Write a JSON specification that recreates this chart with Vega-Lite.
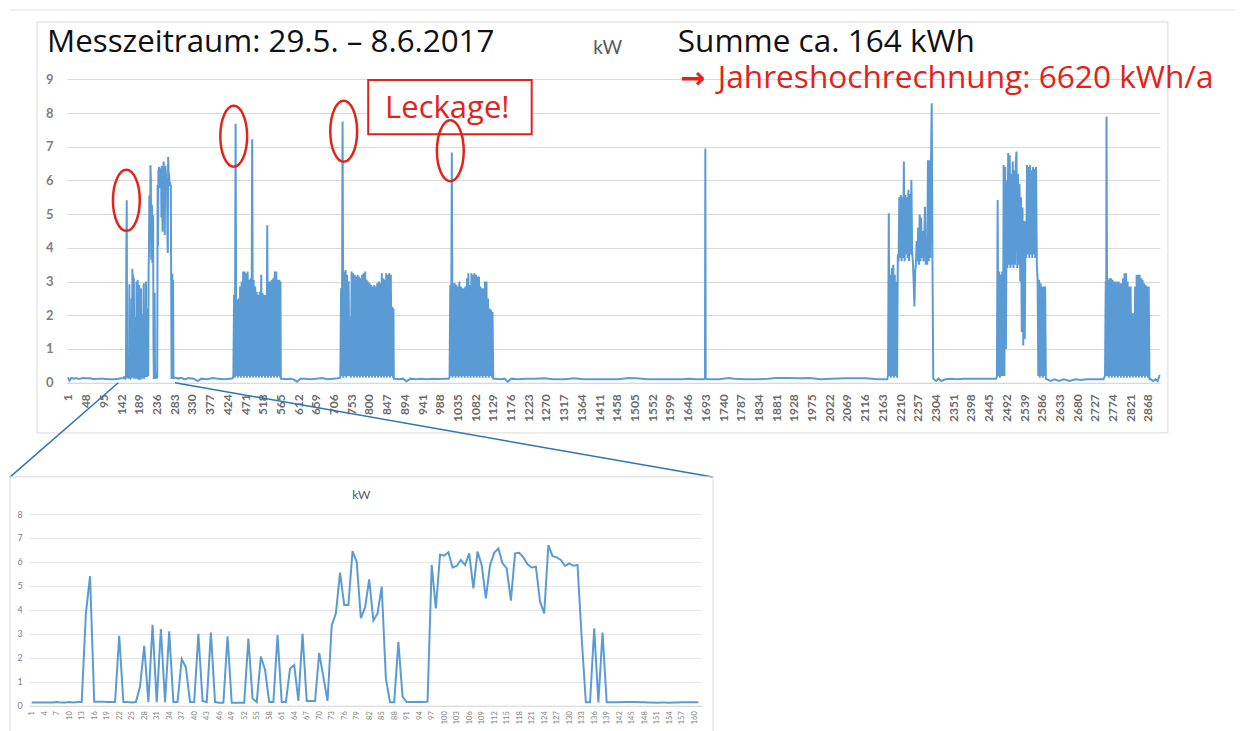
{
"$schema":"https://vega.github.io/schema/vega-lite/v6.json",
"width":1240,"height":731,"autosize":{"type":"none"},"padding":0,"background":"white",
"config":{"view":{"stroke":null},"axis":{"labelFont":"Lato","labelOverlap":false,"labelFlush":false,"labelBound":false}},
"datasets":{"kw":[
{"u":1,"kw":0.16},{"u":5,"kw":0.06},{"u":10,"kw":0.14},{"u":16,"kw":0.12},{"u":22,"kw":0.14},{"u":30,"kw":0.11},{"u":40,"kw":0.14},{"u":50,"kw":0.13},{"u":60,"kw":0.13},{"u":70,"kw":0.1},{"u":80,"kw":0.12},{"u":95,"kw":0.12},{"u":110,"kw":0.1},{"u":125,"kw":0.1},{"u":135,"kw":0.12},{"u":142,"kw":0.13},
{"u":143,"i":1,"kw":0.13},{"u":144,"i":2,"kw":0.13},{"u":145,"i":3,"kw":0.13},{"u":146,"i":4,"kw":0.13},{"u":147,"i":5,"kw":0.13},{"u":148,"i":6,"kw":0.13},{"u":149,"i":7,"kw":0.15},{"u":150,"i":8,"kw":0.13},{"u":151,"i":9,"kw":0.13},{"u":152,"i":10,"kw":0.15},
{"u":153,"i":11,"kw":0.13},{"u":154,"i":12,"kw":0.15},{"u":155,"i":13,"kw":0.15},{"u":156,"i":14,"kw":3.85},{"u":157,"i":15,"kw":5.41},{"u":158,"i":16,"kw":0.17},{"u":159,"i":17,"kw":0.17},{"u":160,"i":18,"kw":0.17},{"u":161,"i":19,"kw":0.15},{"u":162,"i":20,"kw":0.15},
{"u":163,"i":21,"kw":0.15},{"u":164,"i":22,"kw":2.92},{"u":165,"i":23,"kw":0.15},{"u":166,"i":24,"kw":0.15},{"u":167,"i":25,"kw":0.13},{"u":168,"i":26,"kw":0.15},{"u":169,"i":27,"kw":0.8},{"u":170,"i":28,"kw":2.5},{"u":171,"i":29,"kw":0.15},{"u":172,"i":30,"kw":3.38},
{"u":173,"i":31,"kw":0.15},{"u":174,"i":32,"kw":3.2},{"u":175,"i":33,"kw":0.15},{"u":176,"i":34,"kw":3.1},{"u":177,"i":35,"kw":0.15},{"u":178,"i":36,"kw":0.15},{"u":179,"i":37,"kw":1.95},{"u":180,"i":38,"kw":1.6},{"u":181,"i":39,"kw":0.15},{"u":182,"i":40,"kw":0.15},
{"u":183,"i":41,"kw":3.0},{"u":184,"i":42,"kw":0.2},{"u":185,"i":43,"kw":0.15},{"u":186,"i":44,"kw":3.05},{"u":187,"i":45,"kw":0.15},{"u":188,"i":46,"kw":0.12},{"u":189,"i":47,"kw":0.12},{"u":190,"i":48,"kw":2.9},{"u":191,"i":49,"kw":0.12},{"u":192,"i":50,"kw":0.12},
{"u":193,"i":51,"kw":0.12},{"u":194,"i":52,"kw":0.12},{"u":195,"i":53,"kw":2.8},{"u":196,"i":54,"kw":0.3},{"u":197,"i":55,"kw":0.15},{"u":198,"i":56,"kw":2.05},{"u":199,"i":57,"kw":1.5},{"u":200,"i":58,"kw":0.15},{"u":201,"i":59,"kw":0.15},{"u":202,"i":60,"kw":2.95},
{"u":203,"i":61,"kw":0.15},{"u":204,"i":62,"kw":0.15},{"u":205,"i":63,"kw":1.55},{"u":206,"i":64,"kw":1.7},{"u":207,"i":65,"kw":0.2},{"u":208,"i":66,"kw":3.0},{"u":209,"i":67,"kw":0.2},{"u":210,"i":68,"kw":0.2},{"u":211,"i":69,"kw":0.2},{"u":212,"i":70,"kw":2.2},
{"u":213,"i":71,"kw":1.2},{"u":214,"i":72,"kw":0.2},{"u":215,"i":73,"kw":3.35},{"u":216,"i":74,"kw":3.85},{"u":217,"i":75,"kw":5.55},{"u":218,"i":76,"kw":4.2},{"u":219,"i":77,"kw":4.2},{"u":220,"i":78,"kw":6.45},{"u":221,"i":79,"kw":6.0},{"u":222,"i":80,"kw":3.65},
{"u":223,"i":81,"kw":4.1},{"u":224,"i":82,"kw":5.27},{"u":225,"i":83,"kw":3.55},{"u":226,"i":84,"kw":3.85},{"u":227,"i":85,"kw":4.97},{"u":228,"i":86,"kw":1.14},{"u":229,"i":87,"kw":0.14},{"u":230,"i":88,"kw":0.14},{"u":231,"i":89,"kw":2.67},{"u":232,"i":90,"kw":0.38},
{"u":233,"i":91,"kw":0.15},{"u":234,"i":92,"kw":0.15},{"u":235,"i":93,"kw":0.15},{"u":236,"i":94,"kw":0.16},{"u":237,"i":95,"kw":0.15},{"u":238,"i":96,"kw":0.17},{"u":239,"i":97,"kw":5.87},{"u":240,"i":98,"kw":4.06},{"u":241,"i":99,"kw":6.31},{"u":242,"i":100,"kw":6.26},
{"u":243,"i":101,"kw":6.4},{"u":244,"i":102,"kw":5.77},{"u":245,"i":103,"kw":5.83},{"u":246,"i":104,"kw":6.08},{"u":247,"i":105,"kw":5.87},{"u":248,"i":106,"kw":6.36},{"u":249,"i":107,"kw":4.9},{"u":250,"i":108,"kw":6.43},{"u":251,"i":109,"kw":5.87},{"u":252,"i":110,"kw":4.48},
{"u":253,"i":111,"kw":5.87},{"u":254,"i":112,"kw":6.38},{"u":255,"i":113,"kw":6.56},{"u":256,"i":114,"kw":5.94},{"u":257,"i":115,"kw":5.73},{"u":258,"i":116,"kw":4.38},{"u":259,"i":117,"kw":6.36},{"u":260,"i":118,"kw":6.38},{"u":261,"i":119,"kw":6.19},{"u":262,"i":120,"kw":5.9},
{"u":263,"i":121,"kw":5.77},{"u":264,"i":122,"kw":5.8},{"u":265,"i":123,"kw":4.34},{"u":266,"i":124,"kw":3.85},{"u":267,"i":125,"kw":6.7},{"u":268,"i":126,"kw":6.24},{"u":269,"i":127,"kw":6.19},{"u":270,"i":128,"kw":6.08},{"u":271,"i":129,"kw":5.83},{"u":272,"i":130,"kw":5.94},
{"u":273,"i":131,"kw":5.84},{"u":274,"i":132,"kw":5.87},{"u":275,"i":133,"kw":2.8},{"u":276,"i":134,"kw":0.14},{"u":277,"i":135,"kw":0.14},{"u":278,"i":136,"kw":3.23},{"u":279,"i":137,"kw":0.14},{"u":280,"i":138,"kw":3.05},{"u":281,"i":139,"kw":0.14},{"u":282,"i":140,"kw":0.14},
{"u":283,"i":141,"kw":0.14},{"u":284,"i":142,"kw":0.14},{"u":285,"i":143,"kw":0.15},{"u":286,"i":144,"kw":0.15},{"u":287,"i":145,"kw":0.15},{"u":288,"i":146,"kw":0.15},{"u":289,"i":147,"kw":0.14},{"u":290,"i":148,"kw":0.14},{"u":291,"i":149,"kw":0.13},{"u":292,"i":150,"kw":0.13},
{"u":293,"i":151,"kw":0.12},{"u":294,"i":152,"kw":0.13},{"u":295,"i":153,"kw":0.13},{"u":296,"i":154,"kw":0.12},{"u":297,"i":155,"kw":0.13},{"u":298,"i":156,"kw":0.13},{"u":299,"i":157,"kw":0.14},{"u":300,"i":158,"kw":0.14},{"u":301,"i":159,"kw":0.14},{"u":302,"i":160,"kw":0.14},{"u":303,"i":161,"kw":0.14},
{"u":312,"kw":0.1},{"u":320,"kw":0.14},{"u":335,"kw":0.12},{"u":345,"kw":0.05},{"u":355,"kw":0.12},{"u":370,"kw":0.1},{"u":385,"kw":0.14},{"u":400,"kw":0.12},{"u":415,"kw":0.1},{"u":430,"kw":0.12},{"u":438,"kw":0.13},
{"u":440,"kw":0.2},{"u":442,"kw":2.6},{"u":444,"kw":0.15},{"u":446,"kw":7.68},{"u":448,"kw":0.2},{"u":450,"kw":2.45},{"u":452,"kw":0.15},{"u":454,"kw":2.5},{"u":456,"kw":0.2},{"u":458,"kw":2.85},{"u":460,"kw":0.15},{"u":462,"kw":3.0},{"u":464,"kw":0.2},{"u":466,"kw":3.3},{"u":468,"kw":0.15},{"u":470,"kw":3.3},{"u":472,"kw":0.2},{"u":474,"kw":3.25},{"u":476,"kw":0.15},{"u":478,"kw":3.3},{"u":480,"kw":0.2},{"u":482,"kw":3.05},{"u":484,"kw":0.15},{"u":486,"kw":3.1},{"u":488,"kw":0.2},{"u":490,"kw":7.22},{"u":492,"kw":0.15},{"u":494,"kw":3.05},{"u":496,"kw":0.2},{"u":498,"kw":2.85},{"u":500,"kw":0.15},{"u":502,"kw":2.7},{"u":504,"kw":0.2},{"u":506,"kw":2.6},{"u":508,"kw":0.15},{"u":510,"kw":2.7},{"u":512,"kw":0.2},{"u":514,"kw":3.2},{"u":516,"kw":0.15},{"u":518,"kw":2.65},{"u":520,"kw":0.2},{"u":522,"kw":2.6},{"u":524,"kw":0.15},{"u":526,"kw":2.6},{"u":528,"kw":0.2},{"u":530,"kw":4.67},{"u":532,"kw":0.15},{"u":534,"kw":3.0},{"u":536,"kw":0.2},{"u":538,"kw":3.0},{"u":540,"kw":0.15},{"u":542,"kw":3.05},{"u":544,"kw":0.2},{"u":546,"kw":3.1},{"u":548,"kw":0.15},{"u":550,"kw":3.3},{"u":552,"kw":0.2},{"u":554,"kw":3.3},{"u":556,"kw":0.15},{"u":558,"kw":3.05},{"u":560,"kw":0.2},{"u":562,"kw":3.05},{"u":564,"kw":0.15},{"u":565,"kw":3.0},{"u":566,"kw":0.12},
{"u":570,"kw":0.12},{"u":580,"kw":0.1},{"u":590,"kw":0.12},{"u":600,"kw":0.1},{"u":609,"kw":0.03},{"u":618,"kw":0.12},{"u":630,"kw":0.12},{"u":645,"kw":0.1},{"u":660,"kw":0.12},{"u":675,"kw":0.14},{"u":690,"kw":0.1},{"u":705,"kw":0.12},{"u":718,"kw":0.13},
{"u":724,"kw":0.15},{"u":726,"kw":2.8},{"u":728,"kw":0.2},{"u":730,"kw":7.75},{"u":732,"kw":0.15},{"u":734,"kw":3.3},{"u":736,"kw":0.2},{"u":738,"kw":3.34},{"u":740,"kw":0.15},{"u":742,"kw":3.2},{"u":744,"kw":0.2},{"u":746,"kw":3.0},{"u":748,"kw":0.2},{"u":750,"kw":1.96},{"u":752,"kw":0.15},{"u":754,"kw":3.3},{"u":756,"kw":0.2},{"u":758,"kw":3.25},{"u":760,"kw":0.15},{"u":762,"kw":3.2},{"u":764,"kw":0.2},{"u":766,"kw":3.15},{"u":768,"kw":0.15},{"u":770,"kw":3.2},{"u":772,"kw":0.2},{"u":774,"kw":3.15},{"u":776,"kw":0.15},{"u":778,"kw":3.1},{"u":780,"kw":0.2},{"u":782,"kw":3.2},{"u":784,"kw":0.15},{"u":786,"kw":3.25},{"u":788,"kw":0.2},{"u":790,"kw":3.3},{"u":792,"kw":0.15},{"u":794,"kw":3.05},{"u":796,"kw":0.2},{"u":798,"kw":3.0},{"u":800,"kw":0.15},{"u":802,"kw":2.95},{"u":804,"kw":0.2},{"u":806,"kw":2.9},{"u":808,"kw":0.15},{"u":810,"kw":2.85},{"u":812,"kw":0.2},{"u":814,"kw":2.9},{"u":816,"kw":0.15},{"u":818,"kw":2.85},{"u":820,"kw":0.2},{"u":822,"kw":2.95},{"u":824,"kw":0.15},{"u":826,"kw":3.0},{"u":828,"kw":0.2},{"u":830,"kw":2.95},{"u":832,"kw":0.15},{"u":834,"kw":3.25},{"u":836,"kw":0.2},{"u":838,"kw":3.1},{"u":840,"kw":0.15},{"u":842,"kw":3.05},{"u":844,"kw":0.2},{"u":846,"kw":3.25},{"u":848,"kw":0.15},{"u":850,"kw":3.2},{"u":852,"kw":0.2},{"u":854,"kw":3.25},{"u":856,"kw":0.15},{"u":858,"kw":3.2},{"u":860,"kw":0.2},{"u":862,"kw":2.25},{"u":864,"kw":0.15},{"u":865,"kw":2.2},{"u":866,"kw":0.12},
{"u":870,"kw":0.12},{"u":880,"kw":0.1},{"u":890,"kw":0.12},{"u":900,"kw":0.04},{"u":910,"kw":0.12},{"u":925,"kw":0.1},{"u":940,"kw":0.12},{"u":955,"kw":0.1},{"u":970,"kw":0.12},{"u":985,"kw":0.11},{"u":1000,"kw":0.12},{"u":1012,"kw":0.12},
{"u":1014,"kw":0.15},{"u":1016,"kw":2.9},{"u":1018,"kw":0.2},{"u":1020,"kw":6.83},{"u":1022,"kw":0.15},{"u":1024,"kw":2.95},{"u":1026,"kw":0.2},{"u":1028,"kw":2.95},{"u":1030,"kw":0.15},{"u":1032,"kw":2.9},{"u":1034,"kw":0.2},{"u":1036,"kw":2.85},{"u":1038,"kw":0.15},{"u":1040,"kw":3.0},{"u":1042,"kw":0.2},{"u":1044,"kw":2.85},{"u":1046,"kw":0.15},{"u":1048,"kw":2.8},{"u":1050,"kw":0.2},{"u":1052,"kw":2.8},{"u":1054,"kw":0.15},{"u":1056,"kw":2.85},{"u":1058,"kw":0.2},{"u":1060,"kw":3.1},{"u":1062,"kw":0.15},{"u":1064,"kw":3.25},{"u":1066,"kw":0.2},{"u":1068,"kw":2.9},{"u":1070,"kw":0.15},{"u":1072,"kw":3.25},{"u":1074,"kw":0.2},{"u":1076,"kw":3.2},{"u":1078,"kw":0.15},{"u":1080,"kw":3.25},{"u":1082,"kw":0.2},{"u":1084,"kw":3.2},{"u":1086,"kw":0.15},{"u":1088,"kw":3.15},{"u":1090,"kw":0.2},{"u":1092,"kw":3.15},{"u":1094,"kw":0.15},{"u":1096,"kw":2.85},{"u":1098,"kw":0.2},{"u":1100,"kw":2.8},{"u":1102,"kw":0.15},{"u":1104,"kw":2.8},{"u":1106,"kw":0.2},{"u":1108,"kw":3.0},{"u":1110,"kw":0.15},{"u":1112,"kw":3.0},{"u":1114,"kw":0.2},{"u":1116,"kw":2.5},{"u":1118,"kw":0.15},{"u":1120,"kw":2.2},{"u":1122,"kw":0.2},{"u":1124,"kw":2.16},{"u":1126,"kw":0.15},{"u":1128,"kw":2.1},{"u":1130,"kw":0.12},
{"u":1135,"kw":0.12},{"u":1150,"kw":0.1},{"u":1160,"kw":0.12},{"u":1168,"kw":0.03},{"u":1178,"kw":0.12},{"u":1195,"kw":0.1},{"u":1215,"kw":0.12},{"u":1240,"kw":0.12},{"u":1265,"kw":0.13},{"u":1290,"kw":0.1},{"u":1320,"kw":0.1},{"u":1345,"kw":0.13},{"u":1370,"kw":0.1},{"u":1400,"kw":0.1},{"u":1430,"kw":0.1},{"u":1460,"kw":0.1},{"u":1490,"kw":0.14},{"u":1510,"kw":0.13},{"u":1540,"kw":0.1},{"u":1570,"kw":0.1},{"u":1600,"kw":0.1},{"u":1630,"kw":0.1},{"u":1650,"kw":0.12},{"u":1670,"kw":0.1},{"u":1690,"kw":0.1},
{"u":1692,"kw":0.12},{"u":1693,"kw":6.95},{"u":1694,"kw":0.12},
{"u":1700,"kw":0.1},{"u":1730,"kw":0.1},{"u":1755,"kw":0.14},{"u":1770,"kw":0.12},{"u":1800,"kw":0.1},{"u":1830,"kw":0.1},{"u":1860,"kw":0.12},{"u":1880,"kw":0.14},{"u":1910,"kw":0.14},{"u":1940,"kw":0.13},{"u":1970,"kw":0.14},{"u":2000,"kw":0.1},{"u":2030,"kw":0.12},{"u":2060,"kw":0.13},{"u":2090,"kw":0.13},{"u":2120,"kw":0.13},{"u":2150,"kw":0.1},{"u":2174,"kw":0.1},
{"u":2176,"kw":0.1},{"u":2178,"kw":0.2},{"u":2180,"kw":5.03},{"u":2182,"kw":0.2},{"u":2184,"kw":3.2},{"u":2186,"kw":0.15},{"u":2188,"kw":3.4},{"u":2190,"kw":0.2},{"u":2192,"kw":3.5},{"u":2194,"kw":0.15},{"u":2196,"kw":3.2},{"u":2198,"kw":0.2},{"u":2200,"kw":3.0},{"u":2202,"kw":0.15},{"u":2204,"kw":3.8},{"u":2206,"kw":3.6},{"u":2208,"kw":5.5},{"u":2210,"kw":3.7},{"u":2212,"kw":5.57},{"u":2214,"kw":3.6},{"u":2216,"kw":5.5},{"u":2218,"kw":3.7},{"u":2220,"kw":6.56},{"u":2222,"kw":3.6},{"u":2224,"kw":5.57},{"u":2226,"kw":3.8},{"u":2228,"kw":5.5},{"u":2230,"kw":3.7},{"u":2232,"kw":5.72},{"u":2234,"kw":3.6},{"u":2236,"kw":5.6},{"u":2238,"kw":3.8},{"u":2240,"kw":6.01},{"u":2242,"kw":3.9},{"u":2244,"kw":3.59},{"u":2246,"kw":3.0},{"u":2248,"kw":2.26},{"u":2250,"kw":3.3},{"u":2252,"kw":3.5},{"u":2254,"kw":4.2},{"u":2256,"kw":3.6},{"u":2258,"kw":4.6},{"u":2260,"kw":3.5},{"u":2262,"kw":4.98},{"u":2264,"kw":3.6},{"u":2266,"kw":4.9},{"u":2268,"kw":3.7},{"u":2270,"kw":4.5},{"u":2272,"kw":3.6},{"u":2274,"kw":4.2},{"u":2276,"kw":5.22},{"u":2278,"kw":3.5},{"u":2280,"kw":4.0},{"u":2282,"kw":3.5},{"u":2284,"kw":6.6},{"u":2286,"kw":3.6},{"u":2288,"kw":6.6},{"u":2290,"kw":3.7},{"u":2292,"kw":6.5},{"u":2294,"kw":8.29},{"u":2296,"kw":3.6},{"u":2298,"kw":0.12},
{"u":2300,"kw":0.1},{"u":2306,"kw":0.05},{"u":2312,"kw":0.12},{"u":2320,"kw":0.05},{"u":2330,"kw":0.1},{"u":2345,"kw":0.12},{"u":2360,"kw":0.1},{"u":2380,"kw":0.12},{"u":2400,"kw":0.12},{"u":2420,"kw":0.12},{"u":2440,"kw":0.12},{"u":2455,"kw":0.12},{"u":2465,"kw":0.12},
{"u":2467,"kw":0.2},{"u":2469,"kw":5.42},{"u":2471,"kw":0.2},{"u":2473,"kw":3.3},{"u":2475,"kw":0.15},{"u":2477,"kw":3.2},{"u":2479,"kw":0.2},{"u":2481,"kw":3.3},{"u":2483,"kw":0.2},{"u":2485,"kw":6.46},{"u":2487,"kw":0.2},{"u":2489,"kw":6.4},{"u":2491,"kw":1.0},{"u":2493,"kw":6.0},{"u":2495,"kw":3.4},{"u":2497,"kw":6.81},{"u":2499,"kw":3.5},{"u":2501,"kw":6.75},{"u":2503,"kw":3.4},{"u":2505,"kw":6.2},{"u":2507,"kw":3.5},{"u":2509,"kw":6.56},{"u":2511,"kw":3.4},{"u":2513,"kw":6.3},{"u":2515,"kw":3.5},{"u":2517,"kw":6.5},{"u":2519,"kw":6.86},{"u":2521,"kw":3.4},{"u":2523,"kw":6.2},{"u":2525,"kw":3.5},{"u":2527,"kw":5.9},{"u":2529,"kw":3.0},{"u":2531,"kw":5.5},{"u":2533,"kw":1.5},{"u":2535,"kw":5.2},{"u":2537,"kw":1.1},{"u":2539,"kw":4.8},{"u":2541,"kw":1.3},{"u":2543,"kw":4.78},{"u":2545,"kw":3.7},{"u":2547,"kw":6.46},{"u":2549,"kw":3.8},{"u":2551,"kw":6.4},{"u":2553,"kw":3.7},{"u":2555,"kw":6.45},{"u":2557,"kw":3.8},{"u":2559,"kw":6.3},{"u":2561,"kw":3.7},{"u":2563,"kw":6.4},{"u":2565,"kw":3.8},{"u":2567,"kw":6.35},{"u":2569,"kw":3.7},{"u":2571,"kw":6.4},{"u":2573,"kw":3.5},{"u":2575,"kw":3.1},{"u":2577,"kw":0.2},{"u":2579,"kw":3.05},{"u":2581,"kw":0.15},{"u":2583,"kw":2.95},{"u":2585,"kw":0.2},{"u":2587,"kw":2.85},{"u":2589,"kw":0.15},{"u":2591,"kw":2.85},{"u":2593,"kw":0.2},{"u":2595,"kw":2.85},{"u":2597,"kw":0.12},
{"u":2600,"kw":0.1},{"u":2610,"kw":0.05},{"u":2620,"kw":0.1},{"u":2632,"kw":0.05},{"u":2645,"kw":0.1},{"u":2660,"kw":0.05},{"u":2675,"kw":0.1},{"u":2690,"kw":0.08},{"u":2705,"kw":0.1},{"u":2720,"kw":0.1},{"u":2735,"kw":0.1},{"u":2750,"kw":0.1},
{"u":2754,"kw":0.2},{"u":2756,"kw":3.0},{"u":2757,"kw":0.2},{"u":2758,"kw":7.9},{"u":2760,"kw":0.2},{"u":2762,"kw":3.05},{"u":2764,"kw":0.15},{"u":2766,"kw":3.1},{"u":2768,"kw":0.2},{"u":2770,"kw":3.1},{"u":2772,"kw":0.15},{"u":2774,"kw":3.05},{"u":2776,"kw":0.2},{"u":2778,"kw":3.0},{"u":2780,"kw":0.15},{"u":2782,"kw":3.0},{"u":2784,"kw":0.2},{"u":2786,"kw":3.0},{"u":2788,"kw":0.15},{"u":2790,"kw":3.0},{"u":2792,"kw":0.2},{"u":2794,"kw":2.95},{"u":2796,"kw":0.15},{"u":2798,"kw":2.95},{"u":2800,"kw":0.2},{"u":2802,"kw":3.1},{"u":2804,"kw":0.15},{"u":2806,"kw":3.25},{"u":2808,"kw":0.2},{"u":2810,"kw":3.25},{"u":2812,"kw":0.15},{"u":2814,"kw":3.0},{"u":2816,"kw":0.2},{"u":2818,"kw":2.85},{"u":2820,"kw":0.15},{"u":2822,"kw":2.85},{"u":2824,"kw":0.2},{"u":2826,"kw":2.06},{"u":2828,"kw":0.15},{"u":2830,"kw":2.06},{"u":2832,"kw":0.2},{"u":2834,"kw":2.85},{"u":2836,"kw":0.15},{"u":2838,"kw":3.2},{"u":2840,"kw":0.2},{"u":2842,"kw":3.2},{"u":2844,"kw":0.15},{"u":2846,"kw":3.2},{"u":2848,"kw":0.2},{"u":2850,"kw":3.1},{"u":2852,"kw":0.15},{"u":2854,"kw":3.05},{"u":2856,"kw":0.2},{"u":2858,"kw":2.95},{"u":2860,"kw":0.15},{"u":2862,"kw":2.9},{"u":2864,"kw":0.2},{"u":2866,"kw":2.85},{"u":2868,"kw":0.15},{"u":2870,"kw":2.85},{"u":2872,"kw":0.1},
{"u":2876,"kw":0.1},{"u":2882,"kw":0.05},{"u":2888,"kw":0.1},{"u":2894,"kw":0.05},{"u":2899,"kw":0.23}
]},
"layer":[
{"layer":[
 {"data":{"values":[{}]},"mark":{"type":"rule","color":"#e3e3e3","strokeWidth":1},"encoding":{"x":{"datum":-153},"x2":{"datum":3099},"y":{"datum":11.06}}},
 {"data":{"values":[{}]},"mark":{"type":"rect","fill":null,"stroke":"#d9d9d9","strokeWidth":1},"encoding":{"x":{"datum":-81.3},"x2":{"datum":2921},"y":{"datum":-1.49},"y2":{"datum":10.7}}},
 {"data":{"name":"kw"},"mark":{"type":"line","color":"#5b9bd5","strokeWidth":2},
  "encoding":{
   "x":{"field":"u","type":"quantitative","scale":{"domain":[-1.6,2900],"range":[67,1160],"nice":false,"zero":false},
     "axis":{"orient":"bottom","offset":-348.3,"title":null,"grid":false,"ticks":false,"domainColor":"#d9d9d9","labelAngle":270,"labelPadding":11,"labelFontSize":12,"labelFontWeight":"bold","labelColor":"#6b6b6b","format":"d","labelOverlap":false,"labelFlush":false,"labelBound":false,"tickCount":500,
       "values":[1,48,95,142,189,236,283,330,377,424,471,518,565,612,659,706,753,800,847,894,941,988,1035,1082,1129,1176,1223,1270,1317,1364,1411,1458,1505,1552,1599,1646,1693,1740,1787,1834,1881,1928,1975,2022,2069,2116,2163,2210,2257,2304,2351,2398,2445,2492,2539,2586,2633,2680,2727,2774,2821,2868]}},
   "y":{"field":"kw","type":"quantitative","scale":{"domain":[0,9],"range":[382.7,79.3],"nice":false},
     "axis":{"orient":"left","offset":-67,"title":null,"domain":false,"ticks":false,"grid":true,"gridColor":"#d9d9d9","labelPadding":14,"labelFontSize":13,"labelFontWeight":"bold","labelColor":"#808080","format":"d","tickCount":50,"values":[0,1,2,3,4,5,6,7,8,9]}}}},
 {"data":{"values":[{}]},"mark":{"type":"rule","color":"#2e75b6","strokeWidth":1.5},"encoding":{"x":{"datum":134.5},"y":{"datum":0},"x2":{"datum":-153},"y2":{"datum":-2.8}}},
 {"data":{"values":[{}]},"mark":{"type":"rule","color":"#2e75b6","strokeWidth":1.5},"encoding":{"x":{"datum":285},"y":{"datum":0},"x2":{"datum":1713},"y2":{"datum":-2.8}}},
 {"data":{"values":[{}]},"mark":{"type":"rect","fill":"white","stroke":"#e2231a","strokeWidth":2},"encoding":{"x":{"datum":798},"x2":{"datum":1232},"y":{"datum":7.37},"y2":{"datum":8.98}}},
 {"data":{"values":[{}]},"mark":{"type":"text","text":"Leckage!","font":"Open Sans","fontSize":31,"color":"#e2231a","align":"center","baseline":"alphabetic"},"encoding":{"x":{"datum":1008},"y":{"datum":7.85}}},
 {"data":{"values":[{"u":156,"v":5.41},{"u":441,"v":7.31},{"u":733,"v":7.46},{"u":1016,"v":6.88}]},
  "mark":{"type":"point","shape":"M0,-1A0.44,1,0,1,1,0,1A0.44,1,0,1,1,0,-1Z","size":3721,"filled":false,"stroke":"#e2231a","strokeWidth":2.5,"opacity":1},
  "encoding":{"x":{"field":"u","type":"quantitative"},"y":{"field":"v","type":"quantitative"}}},
 {"data":{"values":[{}]},"mark":{"type":"text","text":"Messzeitraum: 29.5. – 8.6.2017","font":"Open Sans","fontSize":31.3,"color":"#111111","align":"left","baseline":"alphabetic"},"encoding":{"x":{"datum":-54.7},"y":{"datum":9.8}}},
 {"data":{"values":[{}]},"mark":{"type":"text","text":"kW","font":"Lato","fontSize":19,"color":"#595959","align":"center","baseline":"alphabetic"},"encoding":{"x":{"datum":1434},"y":{"datum":9.76}}},
 {"data":{"values":[{}]},"mark":{"type":"text","text":"Summe ca. 164 kWh","font":"Open Sans","fontSize":31.5,"color":"#111111","align":"left","baseline":"alphabetic"},"encoding":{"x":{"datum":1620},"y":{"datum":9.8}}},
 {"data":{"values":[{}]},"mark":{"type":"text","text":"→","font":"DejaVu Sans","fontSize":30,"fontWeight":"bold","color":"#e2231a","align":"left","baseline":"alphabetic"},"encoding":{"x":{"datum":1625.6},"y":{"datum":8.73}}},
 {"data":{"values":[{}]},"mark":{"type":"text","text":"Jahreshochrechnung: 6620 kWh/a","font":"Open Sans","fontSize":31.6,"color":"#e2231a","align":"left","baseline":"alphabetic"},"encoding":{"x":{"datum":1726},"y":{"datum":8.73}}}
]},
{"layer":[
 {"data":{"values":[{}]},"mark":{"type":"rect","fill":null,"stroke":"#d9d9d9","strokeWidth":1},"encoding":{"x":{"datum":-4.21},"x2":{"datum":164.5},"y":{"datum":-1.5},"y2":{"datum":9.55}}},
 {"data":{"name":"kw"},"transform":[{"filter":"isValid(datum.i)"}],"mark":{"type":"line","color":"#5b9bd5","strokeWidth":2},
  "encoding":{
   "x":{"field":"i","type":"quantitative","scale":{"domain":[0.42,161.8],"range":[29.3,701.7],"nice":false,"zero":false},
     "axis":{"orient":"bottom","offset":-25.3,"title":null,"grid":false,"ticks":false,"domainColor":"#d9d9d9","labelAngle":270,"labelPadding":5,"labelFontSize":7.5,"labelColor":"#7f7f7f","format":"d","labelOverlap":false,"labelFlush":false,"labelBound":false,"tickCount":500,
       "values":[1,4,7,10,13,16,19,22,25,28,31,34,37,40,43,46,49,52,55,58,61,64,67,70,73,76,79,82,85,88,91,94,97,100,103,106,109,112,115,118,121,124,127,130,133,136,139,142,145,148,151,154,157,160]}},
   "y":{"field":"kw","type":"quantitative","scale":{"domain":[0,8],"range":[705.7,514],"nice":false},
     "axis":{"orient":"left","offset":-29.3,"title":null,"domain":false,"ticks":false,"grid":true,"gridColor":"#e6e6e6","labelPadding":7,"labelFontSize":9,"labelColor":"#7f7f7f","format":"d","tickCount":50,"values":[0,1,2,3,4,5,6,7,8]}}}},
 {"data":{"values":[{}]},"mark":{"type":"text","text":"kW","font":"Lato","fontSize":12,"color":"#595959","align":"center","baseline":"alphabetic"},"encoding":{"x":{"datum":80.1},"y":{"datum":8.61}}}
]}
],
"resolve":{"scale":{"x":"independent","y":"independent"},"axis":{"x":"independent","y":"independent"}}
}
